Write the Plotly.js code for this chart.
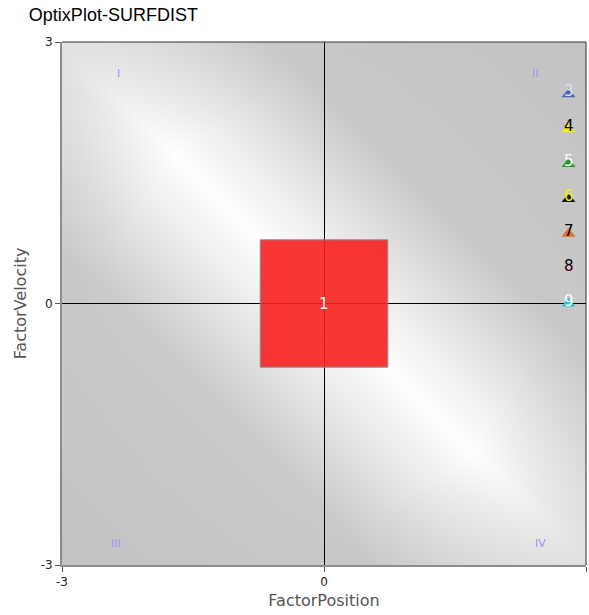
<!DOCTYPE html>
<html>
<head>
<meta charset="utf-8">
<script src="https://cdn.plot.ly/plotly-3.0.1.min.js"></script>
<style>html,body{margin:0;padding:0;background:#fff;}#chart{width:589px;height:615px;}</style>
</head>
<body>
<div id="chart"></div>
<script>
// ---- data ----
var centerLabel = '1';
var centerX = 0;
var centerY = 0;
var centerHalfSize = 0.73;

var markerLabels = ['3', '4', '5', '6', '7', '8', '9'];
var markerX = [2.8, 2.8, 2.8, 2.8, 2.8, 2.8, 2.8];
var markerY = [2.4, 2.0, 1.6, 1.2, 0.8, 0.4, 0.0];
var markerColors = ['#4f66b0', '#f2f200', '#249a24', '#151515', '#e2701e', '#f3b4c4', '#2cc4c4'];
var markerTextColors = ['#dfe6ff', '#000000', '#ffffff', '#f2f200', '#000000', '#000000', '#ffffff'];

var quadLabels = ['I', 'II', 'III', 'IV'];
var quadX = [-2.35, 2.42, -2.38, 2.48];
var quadY = [2.64, 2.64, -2.75, -2.75];

var tickVals = [-3, 0, 3];
var tickText = ['-3', '0', '3'];

// ---- background gradient ----
var svg = '<svg xmlns="http://www.w3.org/2000/svg" width="100" height="100" preserveAspectRatio="none">' +
  '<defs><linearGradient id="g" x1="0" y1="1" x2="1" y2="0">' +
  '<stop offset="0" stop-color="#c4c4c4"/>' +
  '<stop offset="0.3" stop-color="#cacaca"/>' +
  '<stop offset="0.5" stop-color="#ffffff"/>' +
  '<stop offset="0.7" stop-color="#c9c9c9"/>' +
  '<stop offset="1" stop-color="#c3c3c3"/>' +
  '</linearGradient>' +
  '<radialGradient id="r" cx="0.5" cy="0.5" r="0.72">' +
  '<stop offset="0.55" stop-color="#c4c4c4" stop-opacity="0"/>' +
  '<stop offset="1" stop-color="#c4c4c4" stop-opacity="0.55"/>' +
  '</radialGradient></defs>' +
  '<rect width="100" height="100" fill="url(#g)"/>' +
  '<rect width="100" height="100" fill="url(#r)"/></svg>';
var bgSrc = 'data:image/svg+xml;base64,' + btoa(svg);

var h = centerHalfSize;
var squareTrace = {
  x: [centerX - h, centerX + h, centerX + h, centerX - h, centerX - h],
  y: [centerY - h, centerY - h, centerY + h, centerY + h, centerY - h],
  mode: 'lines',
  fill: 'toself',
  fillcolor: 'rgba(246,32,32,0.9)',
  line: {color: '#8a8a8a', width: 1},
  hoverinfo: 'skip',
  showlegend: false
};

var markerTrace = {
  x: markerX,
  y: markerY,
  mode: 'markers',
  marker: {symbol: 'triangle-up', size: 12, color: markerColors, line: {width: 0}},
  hoverinfo: 'skip',
  showlegend: false
};

var annotations = [];
annotations.push({
  x: centerX, y: centerY, xref: 'x', yref: 'y', text: centerLabel, showarrow: false,
  font: {family: 'DejaVu Sans', size: 15, color: '#ffffff'}
});
for (var i = 0; i < markerLabels.length; i++) {
  annotations.push({
    x: markerX[i], y: markerY[i], xref: 'x', yref: 'y', text: markerLabels[i],
    showarrow: false, yshift: 3,
    font: {family: 'DejaVu Sans', size: 15, color: markerTextColors[i]}
  });
}
for (var j = 0; j < quadLabels.length; j++) {
  annotations.push({
    x: quadX[j], y: quadY[j], xref: 'x', yref: 'y', text: quadLabels[j], showarrow: false,
    font: {family: 'DejaVu Sans', size: 11, color: '#9696ee'}
  });
}

var layout = {
  width: 589,
  height: 615,
  margin: {l: 62, r: 3, t: 42, b: 50, pad: 0},
  paper_bgcolor: '#ffffff',
  plot_bgcolor: '#c6c6c6',
  title: {
    text: 'OptixPlot-SURFDIST',
    x: 0.049, xref: 'container', xanchor: 'left',
    y: 1, yref: 'container', yanchor: 'top', pad: {t: 8},
    font: {family: 'Liberation Sans', size: 18, color: '#000000'}
  },
  xaxis: {
    range: [-3, 3],
    tickvals: tickVals, ticktext: tickText,
    ticks: 'outside', ticklen: 5, tickcolor: '#555555', tickwidth: 1,
    showgrid: false,
    zeroline: true, zerolinecolor: '#000000', zerolinewidth: 1,
    showline: true, linecolor: '#8c8c8c', linewidth: 2,
    tickfont: {family: 'DejaVu Sans', size: 12, color: '#222222'},
    title: {text: 'FactorPosition', standoff: 6, font: {family: 'DejaVu Sans', size: 16, color: '#555555'}},
    fixedrange: true
  },
  yaxis: {
    range: [-3, 3],
    tickvals: tickVals, ticktext: tickText,
    ticks: 'outside', ticklen: 5, tickcolor: '#555555', tickwidth: 1,
    showgrid: false,
    zeroline: true, zerolinecolor: '#000000', zerolinewidth: 1,
    showline: true, linecolor: '#8c8c8c', linewidth: 2,
    tickfont: {family: 'DejaVu Sans', size: 12, color: '#222222'},
    title: {text: 'FactorVelocity', standoff: 10, font: {family: 'DejaVu Sans', size: 16, color: '#555555'}},
    fixedrange: true
  },
  images: [{
    source: bgSrc, xref: 'paper', yref: 'paper', x: 0, y: 1, sizex: 1, sizey: 1,
    xanchor: 'left', yanchor: 'top', sizing: 'stretch', layer: 'below'
  }],
  shapes: [
    {type: 'line', xref: 'paper', yref: 'paper', x0: 0, x1: 1, y0: 1, y1: 1, line: {color: '#333333', width: 1}},
    {type: 'line', xref: 'paper', yref: 'paper', x0: 1, x1: 1, y0: 0, y1: 1, line: {color: '#333333', width: 1}}
  ],
  annotations: annotations,
  showlegend: false
};

Plotly.newPlot('chart', [squareTrace, markerTrace], layout, {displayModeBar: false, staticPlot: true});
</script>
</body>
</html>
